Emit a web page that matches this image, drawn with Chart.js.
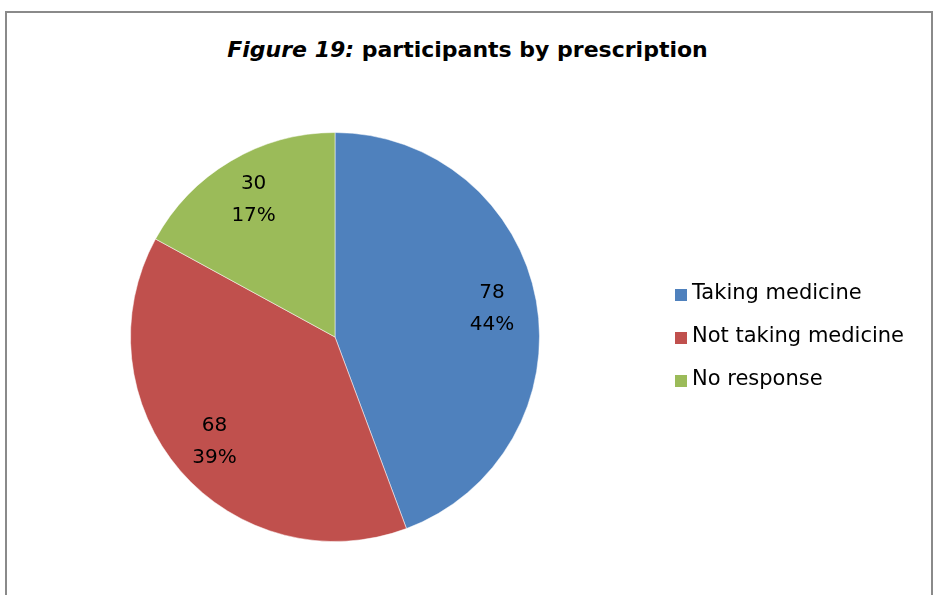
<!DOCTYPE html>
<html>
<head>
<meta charset="utf-8">
<script src="https://cdn.jsdelivr.net/npm/chart.js@4"></script>
<style>
  html, body { margin: 0; padding: 0; background: #fff; }
  body { width: 935px; height: 595px; position: relative; overflow: hidden; font-family: 'DejaVu Sans', sans-serif; }
  #cadre { position: absolute; left: 5px; top: 11px; width: 928px; height: 620px; border: 2px solid #8a8a8a; box-sizing: border-box; }
  #titre { position: absolute; left: 0; width: 935px; top: 37px; text-align: center; font-size: 22px; font-weight: bold; color: #000; }
  #zone { position: absolute; left: 0; top: 0; width: 935px; height: 595px; }
  #legende { position: absolute; left: 675px; top: 280px; font-size: 21px; color: #000; }
  .item { height: 43px; display: flex; align-items: flex-start; }
  .carre { width: 12px; height: 12px; margin-top: 9px; margin-right: 5px; }
</style>
</head>
<body>
<div id="cadre"></div>
<div id="titre"><i>Figure 19:</i> participants by prescription</div>
<div id="zone"><canvas id="graphique" width="935" height="595"></canvas></div>
<div id="legende"></div>
<script>
const categories = ['Taking medicine', 'Not taking medicine', 'No response'];
const valeurs = [78, 68, 30];
const pourcentages = ['44%', '39%', '17%'];
const couleurs = ['#4f81bd', '#c0504d', '#9bbb59'];

const etiquettes = {
    id: 'etiquettes',
    afterDatasetsDraw(chart) {
        const ctx = chart.ctx;
        const arcs = chart.getDatasetMeta(0).data;
        ctx.save();
        ctx.font = '20px "DejaVu Sans", sans-serif';
        ctx.fillStyle = '#000';
        ctx.textAlign = 'center';
        ctx.textBaseline = 'middle';
        arcs.forEach((arc, i) => {
            const milieu = (arc.startAngle + arc.endAngle) / 2;
            const r = arc.outerRadius * 0.78;
            const x = arc.x + Math.cos(milieu) * r;
            const y = arc.y + Math.sin(milieu) * r;
            ctx.fillText(String(valeurs[i]), x, y - 16);
            ctx.fillText(pourcentages[i], x, y + 16);
        });
        ctx.restore();
    }
};

new Chart(document.getElementById('graphique'), {
    type: 'pie',
    data: {
        labels: categories,
        datasets: [{
            data: valeurs,
            backgroundColor: couleurs,
            borderColor: 'rgba(255,255,255,0.5)',
            borderWidth: 1
        }]
    },
    options: {
        responsive: false,
        animation: false,
        layout: { padding: { left: 130, right: 395, top: 132, bottom: 53 } },
        plugins: {
            legend: { display: false },
            tooltip: { enabled: false }
        }
    },
    plugins: [etiquettes]
});

const legende = document.getElementById('legende');
categories.forEach((nom, i) => {
    const item = document.createElement('div');
    item.className = 'item';
    const carre = document.createElement('div');
    carre.className = 'carre';
    carre.style.background = couleurs[i];
    const texte = document.createElement('span');
    texte.textContent = nom;
    item.appendChild(carre);
    item.appendChild(texte);
    legende.appendChild(item);
});
</script>
</body>
</html>
